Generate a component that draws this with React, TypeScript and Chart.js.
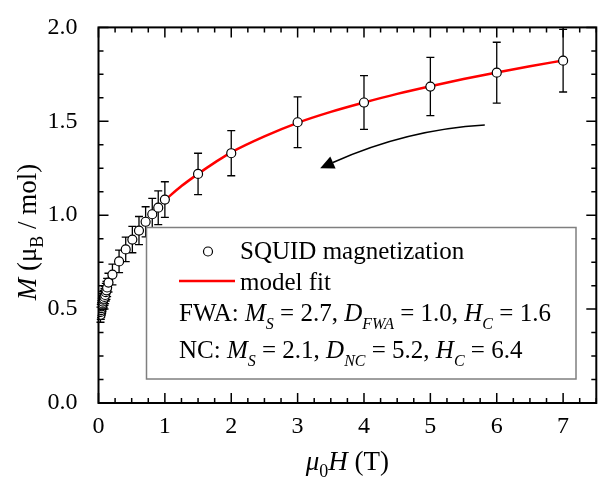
import React, { useEffect, useRef } from "react";
import { Chart, registerables } from "chart.js";

Chart.register(...registerables);

// ---- data ----
const fieldT = [
  0.03, 0.035, 0.04, 0.045, 0.05, 0.055, 0.06, 0.065, 0.07, 0.08, 0.09, 0.1, 0.11, 0.12, 0.13,
  0.15, 0.21, 0.31, 0.41, 0.51, 0.61, 0.71, 0.81, 0.9, 1.0, 1.5, 2, 3, 4, 5, 6, 7,
];
const magnetization = [
  0.47, 0.485, 0.495, 0.505, 0.515, 0.52, 0.53, 0.54, 0.55, 0.555, 0.565, 0.575, 0.59, 0.6, 0.615,
  0.641, 0.684, 0.754, 0.818, 0.87, 0.918, 0.965, 1.005, 1.04, 1.083, 1.22, 1.33, 1.495, 1.6, 1.685, 1.759, 1.823,
];
const magError = [
  0.04, 0.04, 0.04, 0.04, 0.042, 0.042, 0.043, 0.043, 0.044, 0.045, 0.045, 0.046, 0.047, 0.048, 0.049,
  0.05, 0.055, 0.06, 0.065, 0.07, 0.075, 0.08, 0.085, 0.09, 0.095, 0.11, 0.12, 0.135, 0.143, 0.155, 0.162, 0.167,
];
const fitField = [1.0, 1.25, 1.5, 1.75, 2.0, 2.5, 3.0, 3.5, 4.0, 4.5, 5.0, 5.5, 6.0, 6.5, 7.0];
const fitM = [1.08, 1.155, 1.22, 1.28, 1.335, 1.42, 1.492, 1.55, 1.6, 1.646, 1.687, 1.725, 1.76, 1.793, 1.824];
const xTickValues = [0, 1, 2, 3, 4, 5, 6, 7];
const yTickValues = [0, 0.5, 1.0, 1.5, 2.0];
const seriesLabels = ["SQUID magnetization", "model fit"];
// arrow annotation (data coordinates): start, control, end
const arrowStart = [5.82, 1.48];
const arrowCtrl = [4.64, 1.456];
const arrowEnd = [3.34, 1.25];

const FAMILY = "Liberation Serif";
const FONT = `"${FAMILY}", "Times New Roman", Times, serif`;

type Part = { t: string; i?: boolean; sub?: boolean };

function partFont(p: Part, size: number, subSize: number) {
  return `${p.i ? "italic " : ""}${p.sub ? subSize : size}px ${FONT}`;
}

function richWidth(ctx: CanvasRenderingContext2D, parts: Part[], size: number, subSize: number) {
  let w = 0;
  for (const p of parts) {
    ctx.font = partFont(p, size, subSize);
    w += ctx.measureText(p.t).width;
  }
  return w;
}

function drawRich(
  ctx: CanvasRenderingContext2D,
  parts: Part[],
  x: number,
  y: number,
  size: number,
  subSize: number,
  subShift: number
) {
  let cx = x;
  ctx.textAlign = "left";
  ctx.textBaseline = "alphabetic";
  for (const p of parts) {
    ctx.font = partFont(p, size, subSize);
    ctx.fillText(p.t, cx, y + (p.sub ? subShift : 0));
    cx += ctx.measureText(p.t).width;
  }
}

const errorBarPlugin = {
  id: "errorBars",
  beforeDatasetsDraw(chart: any) {
    const { ctx, scales } = chart;
    const xs = scales.x;
    const ys = scales.y;
    ctx.save();
    ctx.strokeStyle = "#000";
    ctx.lineWidth = 1.3;
    for (let i = 0; i < fieldT.length; i++) {
      const px = xs.getPixelForValue(fieldT[i]);
      const top = ys.getPixelForValue(magnetization[i] + magError[i]);
      const bot = ys.getPixelForValue(magnetization[i] - magError[i]);
      ctx.beginPath();
      ctx.moveTo(px, top);
      ctx.lineTo(px, bot);
      ctx.moveTo(px - 4, top);
      ctx.lineTo(px + 4, top);
      ctx.moveTo(px - 4, bot);
      ctx.lineTo(px + 4, bot);
      ctx.stroke();
    }
    ctx.restore();
  },
};

const LEG = 25;
const LEG_SUB = 16;

const decorPlugin = {
  id: "decor",
  afterDatasetsDraw(chart: any) {
    const { ctx, scales } = chart;
    const xs = scales.x;
    const ys = scales.y;
    ctx.save();

    // arrow
    const sx = xs.getPixelForValue(arrowStart[0]);
    const sy = ys.getPixelForValue(arrowStart[1]);
    const cx = xs.getPixelForValue(arrowCtrl[0]);
    const cy = ys.getPixelForValue(arrowCtrl[1]);
    const ex = xs.getPixelForValue(arrowEnd[0]);
    const ey = ys.getPixelForValue(arrowEnd[1]);
    const ang = Math.atan2(ey - cy, ex - cx);
    const headLen = 14;
    const headHalf = 6.5;
    const bx = ex - headLen * Math.cos(ang);
    const by = ey - headLen * Math.sin(ang);
    ctx.strokeStyle = "#000";
    ctx.fillStyle = "#000";
    ctx.lineWidth = 1.5;
    ctx.beginPath();
    ctx.moveTo(sx, sy);
    ctx.quadraticCurveTo(cx, cy, bx, by);
    ctx.stroke();
    ctx.beginPath();
    ctx.moveTo(ex, ey);
    ctx.lineTo(bx + headHalf * Math.sin(ang), by - headHalf * Math.cos(ang));
    ctx.lineTo(bx - headHalf * Math.sin(ang), by + headHalf * Math.cos(ang));
    ctx.closePath();
    ctx.fill();

    // legend box
    const lx = 146.5;
    const ly = 227.5;
    const lw = 429.5;
    const lh = 151.5;
    ctx.fillStyle = "#fff";
    ctx.fillRect(lx, ly, lw, lh);
    ctx.strokeStyle = "#7f7f7f";
    ctx.lineWidth = 1.5;
    ctx.strokeRect(lx, ly, lw, lh);

    // legend entries
    ctx.fillStyle = "#fff";
    ctx.strokeStyle = "#000";
    ctx.lineWidth = 1.2;
    ctx.beginPath();
    ctx.arc(208, 251.5, 4.5, 0, Math.PI * 2);
    ctx.fill();
    ctx.stroke();
    ctx.strokeStyle = "#ff0000";
    ctx.lineWidth = 2.5;
    ctx.beginPath();
    ctx.moveTo(179, 281);
    ctx.lineTo(235, 281);
    ctx.stroke();

    ctx.fillStyle = "#000";
    drawRich(ctx, [{ t: seriesLabels[0] }], 240, 259, LEG, LEG_SUB, 8);
    drawRich(ctx, [{ t: seriesLabels[1] }], 240, 290, LEG, LEG_SUB, 8);
    drawRich(
      ctx,
      [
        { t: "FWA: " },
        { t: "M", i: true },
        { t: "S", i: true, sub: true },
        { t: " = 2.7, " },
        { t: "D", i: true },
        { t: "FWA", i: true, sub: true },
        { t: " = 1.0, " },
        { t: "H", i: true },
        { t: "C", i: true, sub: true },
        { t: " = 1.6" },
      ],
      179,
      321,
      LEG,
      LEG_SUB,
      8
    );
    drawRich(
      ctx,
      [
        { t: "NC: " },
        { t: "M", i: true },
        { t: "S", i: true, sub: true },
        { t: " = 2.1, " },
        { t: "D", i: true },
        { t: "NC", i: true, sub: true },
        { t: " = 5.2, " },
        { t: "H", i: true },
        { t: "C", i: true, sub: true },
        { t: " = 6.4" },
      ],
      179,
      358,
      LEG,
      LEG_SUB,
      8
    );
    ctx.restore();
  },
  afterDraw(chart: any) {
    const { ctx, scales, chartArea } = chart;
    const xs = scales.x;
    const ys = scales.y;
    const { left, right, top, bottom } = chartArea;
    ctx.save();
    ctx.strokeStyle = "#000";
    ctx.lineWidth = 2;
    ctx.strokeRect(left, top, right - left, bottom - top);

    ctx.lineWidth = 1.5;
    ctx.beginPath();
    for (let v = 0; v <= 7.5 + 1e-9; v += 0.25) {
      const major = Math.abs(v - Math.round(v)) < 1e-9;
      const len = major ? 10 : 5;
      const px = xs.getPixelForValue(v);
      ctx.moveTo(px, bottom);
      ctx.lineTo(px, bottom - len);
      ctx.moveTo(px, top);
      ctx.lineTo(px, top + len);
    }
    for (let v = 0; v <= 2 + 1e-9; v += 0.125) {
      const major = Math.abs(v * 2 - Math.round(v * 2)) < 1e-9;
      const len = major ? 10 : 5;
      const py = ys.getPixelForValue(v);
      ctx.moveTo(left, py);
      ctx.lineTo(left + len, py);
      ctx.moveTo(right, py);
      ctx.lineTo(right - len, py);
    }
    ctx.stroke();

    ctx.fillStyle = "#000";
    const TS = 27;
    const TSUB = 18;
    const xParts: Part[] = [
      { t: "\u03bc", i: true },
      { t: "0", sub: true },
      { t: "H", i: true },
      { t: " (T)" },
    ];
    const xw = richWidth(ctx, xParts, TS, TSUB);
    drawRich(ctx, xParts, (left + right) / 2 - xw / 2, 470, TS, TSUB, 7);

    const yParts: Part[] = [
      { t: "M", i: true },
      { t: " (\u03bc" },
      { t: "B", sub: true },
      { t: " / mol)" },
    ];
    const yw = richWidth(ctx, yParts, TS, TSUB);
    ctx.translate(36, 232);
    ctx.rotate(-Math.PI / 2);
    drawRich(ctx, yParts, -yw / 2, 0, TS, TSUB, 7);
    ctx.restore();
  },
};

export default function App() {
  const ref = useRef<HTMLCanvasElement | null>(null);

  useEffect(() => {
    document.body.style.margin = "0";
    let chart: Chart | null = null;
    let cancelled = false;

    const build = () => {
      const canvas = ref.current;
      if (!canvas || cancelled) return;
      chart = new Chart(canvas, {
        type: "scatter",
        data: {
          datasets: [
            {
              label: seriesLabels[1],
              data: fitField.map((x, i) => ({ x, y: fitM[i] })),
              showLine: true,
              borderColor: "#ff0000",
              borderWidth: 2.5,
              pointRadius: 0,
              tension: 0.4,
              cubicInterpolationMode: "monotone",
              order: 1,
            } as any,
            {
              label: seriesLabels[0],
              data: fieldT.map((x, i) => ({ x, y: magnetization[i] })),
              showLine: false,
              pointRadius: 4.5,
              pointBackgroundColor: "#ffffff",
              pointBorderColor: "#000000",
              pointBorderWidth: 1.2,
              order: 0,
            } as any,
          ],
        },
        options: {
          responsive: false,
          animation: false,
          devicePixelRatio: 1,
          layout: { padding: { top: 19, right: 4, left: 0, bottom: 0 } },
          plugins: { legend: { display: false }, tooltip: { enabled: false } },
          scales: {
            x: {
              type: "linear",
              min: 0,
              max: 7.5,
              afterBuildTicks: (s: any) => {
                s.ticks = xTickValues.map((v) => ({ value: v }));
              },
              afterFit: (s: any) => {
                s.height = 76;
              },
              grid: { display: false },
              border: { display: false },
              ticks: {
                font: { family: FONT, size: 24 },
                color: "#000",
                padding: 1,
                maxRotation: 0,
                autoSkip: false,
                callback: (v: any) => String(v),
              },
            },
            y: {
              type: "linear",
              min: 0,
              max: 2,
              afterBuildTicks: (s: any) => {
                s.ticks = yTickValues.map((v) => ({ value: v }));
              },
              afterFit: (s: any) => {
                s.width = 98.5;
              },
              grid: { display: false },
              border: { display: false },
              ticks: {
                font: { family: FONT, size: 24 },
                color: "#000",
                padding: 13,
                autoSkip: false,
                callback: (v: any) => Number(v).toFixed(1),
              },
            },
          },
        } as any,
        plugins: [errorBarPlugin, decorPlugin],
      });
    };

    const fonts: any = (document as any).fonts;
    if (fonts && fonts.load) {
      Promise.all([
        fonts.load(`24px "${FAMILY}"`),
        fonts.load(`italic 24px "${FAMILY}"`),
      ])
        .catch(() => undefined)
        .then(build);
    } else {
      build();
    }
    return () => {
      cancelled = true;
      if (chart) chart.destroy();
    };
  }, []);

  return (
    <div style={{ width: 602, height: 479 }}>
      <canvas ref={ref} width={602} height={479} style={{ display: "block" }} />
    </div>
  );
}
